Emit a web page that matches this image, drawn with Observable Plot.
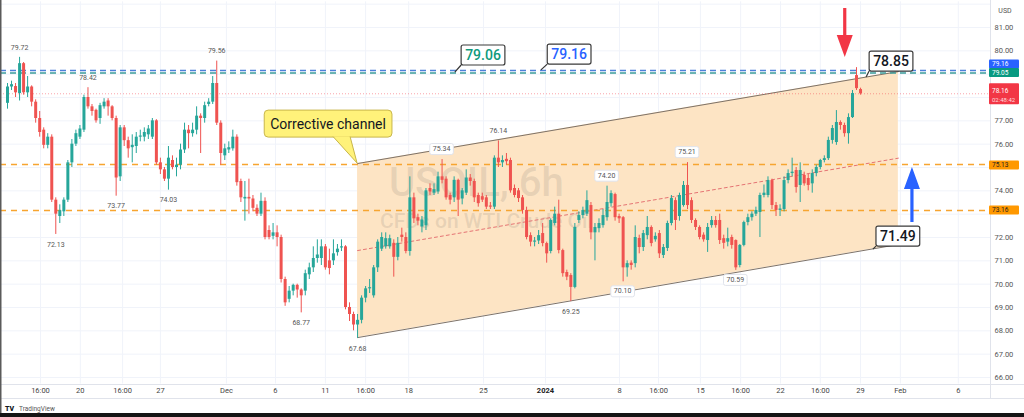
<!DOCTYPE html>
<html><head><meta charset="utf-8">
<script src="https://cdn.jsdelivr.net/npm/d3@7"></script>
<script src="https://cdn.jsdelivr.net/npm/@observablehq/plot@0.6"></script>
<style>
html,body{margin:0;padding:0;background:#fff;}
#chart{position:relative;width:1024px;height:417px;overflow:hidden;background:#fff;}
svg{display:block;}
</style></head><body><div id="chart"></div>
<script>
// ---- OHLC candles (open, high, low, close), 6h bars ----
const candlesNov = [
[77.75,78.6,77.5,78.45],[78.45,78.7,78.3,78.55],[78.47,78.6,78.0,78.2],[78.17,79.72,77.85,79.45],[79.45,79.5,78.1,78.2],[78.2,78.9,78.0,78.45],[78.45,78.5,77.6,77.8],[77.8,77.9,76.9,77.1],[77.1,77.4,76.3,76.5],[76.6,76.7,75.8,75.95],
[75.95,76.45,75.8,76.3],[76.3,76.4,73.5,73.6],[73.6,73.7,72.13,73.0],[72.9,73.4,72.6,73.15],[73.1,73.7,72.9,73.6],[73.6,75.3,73.5,75.2],[75.2,76.2,75.0,76.0],[76.0,76.6,75.9,76.45],[76.3,76.8,76.2,76.65],[76.6,78.1,76.5,78.0],
[78.0,78.42,77.5,77.6],[77.6,77.7,77.2,77.4],[77.45,77.5,76.9,77.0],[77.1,77.75,76.85,77.65],[77.6,77.95,77.5,77.8],[77.85,77.95,77.2,77.6],[77.6,77.65,77.0,77.1],[77.1,77.2,73.77,74.55],[74.6,76.8,74.4,76.7],[76.7,76.8,75.9,76.15],
[76.15,76.3,75.4,75.8],[75.85,76.4,75.2,75.95],[75.9,76.5,75.6,76.3],[76.3,76.6,76.1,76.35],[76.3,76.7,76.1,76.5],[76.4,76.8,76.2,76.65],[76.3,77.1,76.2,77.0],[77.0,77.05,75.1,75.2],[75.2,75.4,74.7,74.9],[74.9,75.0,74.4,74.5],
[74.5,75.9,74.03,75.4],[75.3,75.5,74.9,75.0],[75.0,75.4,74.6,75.1],[75.1,76.0,74.9,75.75],[75.75,76.9,75.6,76.6],[76.6,76.8,75.8,76.45],[76.45,76.9,76.3,76.6],[76.6,77.6,76.4,77.2],[77.2,77.3,75.6,77.1],[77.1,77.8,76.9,77.65],
[77.7,77.95,77.6,77.8],[77.8,78.9,77.7,78.6],[78.6,79.56,76.8,76.9]
];
const candlesDec = [
[76.9,77.0,75.1,75.6],[75.5,76.0,75.3,75.8],[75.75,76.1,75.6,75.85],[75.8,76.6,75.7,76.3],[76.3,76.4,74.2,74.35],[74.4,74.5,73.5,73.7],[73.65,74.4,72.7,73.72],[73.72,74.5,73.0,73.65],[73.65,73.8,73.1,73.25],[73.25,73.4,72.9,73.0],
[73.0,73.9,72.9,73.55],[73.55,73.7,71.9,72.0],[72.3,72.5,71.9,72.0],[72.05,72.6,71.9,72.2],[72.2,72.5,71.6,72.0],[72.0,72.1,70.05,70.2],[70.2,70.3,69.05,69.2],[69.35,69.9,69.2,69.7],[69.7,70.0,69.5,69.95],[69.95,70.0,69.4,69.75],
[69.75,69.8,68.77,69.5],[69.7,70.6,69.5,70.45],[70.4,70.9,70.2,70.7],[70.7,71.6,70.5,71.1],[71.1,71.9,70.9,71.25],[71.1,71.9,70.8,71.6],[71.6,71.7,70.6,70.7],[71.0,71.5,70.4,70.67],[71.0,71.9,70.8,71.3],[71.35,71.7,71.2,71.5],
[71.55,71.9,71.4,71.6],[71.6,71.65,68.9,69.0],[69.0,69.2,68.4,68.7],[68.7,68.8,68.0,68.25],[68.25,68.7,67.68,68.45],[68.45,69.5,68.3,69.4],[69.4,69.9,69.2,69.8],[69.8,70.2,69.6,69.85],[69.5,70.8,69.4,70.7],[70.7,71.9,70.5,71.8],
[71.5,72.2,71.4,72.0],[71.6,72.2,71.5,71.95],[71.6,72.1,71.5,71.95],[71.75,71.9,70.3,71.15],[71.15,72.0,71.0,71.75],[72.1,72.4,71.8,72.0],[72.0,72.2,71.3,71.4],[71.4,74.6,71.2,73.7],[73.7,73.9,72.6,72.8],[72.85,73.0,72.5,72.7],
[72.45,72.9,72.2,72.75],[72.5,74.1,72.3,74.0],[74.1,74.3,73.8,73.95],[73.9,74.3,73.8,74.05],[73.95,74.8,73.85,74.6],[74.6,75.34,74.3,74.45],[74.5,74.6,73.6,73.7],[73.8,73.9,73.4,73.6],[73.7,74.6,73.5,74.45],[74.45,74.5,72.9,73.6],
[73.65,74.1,73.4,74.0],[73.9,74.9,73.8,74.55],[74.55,74.7,74.2,74.4],[74.4,74.5,73.5,73.7],[73.8,73.9,73.3,73.45],[73.75,73.9,73.5,73.6],[73.7,73.8,73.2,73.3],[73.35,73.5,73.2,73.3],[73.3,75.5,73.2,75.4],[75.4,76.14,75.0,75.2],
[75.2,75.5,75.0,75.3],[75.35,75.6,75.1,75.25],[75.3,75.4,73.9,74.0],[74.1,74.25,73.7,73.8],[74.0,74.1,73.5,73.67],[73.7,73.8,73.0,73.16],[73.16,73.3,71.9,72.0],[72.08,72.2,71.6,71.8],[71.8,72.0,71.6,71.85]
];
const candlesJan = [
[71.85,72.3,71.7,72.08],[72.17,72.6,71.6,71.74],[71.74,71.8,70.9,71.3],[71.4,72.8,71.3,72.73],[72.6,73.3,72.5,73.0],[73.0,73.6,71.3,71.44],[71.44,71.5,70.3,70.45],[70.5,70.6,70.15,70.3],[70.37,70.45,69.25,69.86],[69.86,72.6,69.8,72.43],
[72.73,73.1,72.6,72.94],[72.94,73.3,72.8,73.16],[73.0,74.0,72.9,73.58],[73.37,73.5,71.9,72.2],[72.2,72.6,71.0,72.43],[72.38,72.8,72.2,72.6],[72.51,73.2,72.4,72.94],[72.85,74.2,72.7,73.5],[73.45,74.0,73.3,73.88],[73.84,73.9,72.7,72.85],
[72.9,73.0,72.6,72.8],[72.85,72.9,70.1,70.7],[70.7,71.0,70.3,70.88],[70.9,71.0,70.6,70.8],[70.88,72.5,70.7,72.0],[71.96,72.1,71.3,71.57],[71.57,72.3,71.4,72.17],[72.08,72.9,71.9,72.43],[72.43,72.5,71.6,71.74],[71.9,72.2,71.8,72.05],
[72.17,72.3,71.1,71.3],[71.23,71.7,71.1,71.57],[71.53,72.7,71.4,72.6],[72.6,73.8,72.5,73.67],[73.58,73.7,72.3,72.73],[72.9,73.9,72.7,73.8],[73.37,74.4,73.3,74.23],[74.23,75.21,73.2,73.37],[73.58,73.7,72.6,72.73],[72.73,72.8,72.3,72.43],
[72.43,72.5,71.9,72.0],[72.1,72.2,71.8,71.9],[71.87,72.6,71.36,72.43],[72.51,72.9,72.4,72.73],[72.73,72.9,72.4,72.51],[72.73,73.0,71.7,71.87],[71.95,72.1,71.5,71.75],[71.8,72.4,71.6,71.95],[72.0,72.1,71.5,71.66],[71.87,71.9,70.59,70.7],
[70.8,71.7,70.7,71.66],[71.66,72.7,71.6,72.64],[72.64,73.0,72.5,72.85],[72.85,73.1,72.7,73.0],[73.0,73.3,72.9,73.16],[73.07,73.9,72.0,73.8],[73.8,74.25,73.7,73.9],[73.8,74.6,73.7,74.44],[74.44,74.5,73.2,73.37],[73.37,73.5,72.9,73.16],
[73.16,73.4,72.9,73.22],[73.2,74.6,73.1,74.44],[74.44,74.9,74.3,74.74],[74.74,75.4,74.6,74.8],[74.87,75.0,73.9,74.14],[74.23,75.2,73.5,74.87],[74.66,74.8,74.2,74.3],[74.53,74.7,74.0,74.23],[74.3,74.9,73.9,74.74],[74.74,75.1,74.6,75.0],
[75.0,75.35,74.9,75.3],[75.3,75.5,75.2,75.38],[75.38,76.3,75.3,76.16],[76.16,76.8,76.0,76.67],[76.07,77.44,75.95,76.93],[76.93,77.0,76.6,76.8],[76.8,76.9,76.3,76.45],[76.45,77.3,76.0,77.14],[77.14,78.3,77.1,78.17],[78.94,79.28,78.3,78.38],
[78.34,78.4,78.1,78.16]
];

// ---- axes ----
const xTickLabels = ["16:00","20","16:00","27","Dec","6","11","16:00","18","25","2024","8","16:00","15","16:00","22","16:00","29","Feb","6"];
const xTickIdx = [8.2,18.1,28.6,38.0,54.4,66.6,79.0,89.0,99.7,118.3,133.7,152.1,161.8,172.2,182.2,192.1,202.0,212.0,221.9,236.3];
const yTickValues = [81,80,77,76,74,72,71,70,69,68,67,66];
const yGridValues = [66,67,68,69,70,71,72,73,74,75,76,77,78,79,80,81,82];

// ---- levels ----
const levelBlue = 79.16;
const levelTeal = 79.05;
const levelOrange = [75.13, 73.16];
const lastPrice = 78.16;
const tagPrices = [79.16, 79.05, 78.16, 75.13, 73.16];
const tagLabels = ["79.16", "79.05", "78.16", "75.13", "73.16"];

// ---- channel ----
const channelX = [87, 221.4];
const channelTop = [75.17, 79.11];
const channelBottom = [67.71, 71.70];
const channelMid = [71.44, 75.40];

// ---- pivot labels ----
const pivotHighValues = [79.72, 78.42, 79.56, 75.34, 76.14, 74.20, 75.21];
const pivotLowValues = [72.13, 73.77, 74.03, 68.77, 67.68, 69.25, 70.10, 70.59];
const boxedPivotValues = [75.34, 74.20, 75.21, 70.10, 70.59];

// ---- callouts ----
const calloutTexts = ["79.06", "79.16", "78.85", "71.49"];
const calloutIdx = [118.3, 139.7, 219.7, 221.4];
const calloutPrice = [79.8, 79.84, 79.54, 72.04];
const calloutTargetIdx = [111.3, 132.7, 213.5, 215.2];
const calloutTargetPrice = [79.07, 79.16, 78.86, 71.48];
const noteText = "Corrective channel";
const noteIdx = 79.8, notePrice = 76.86;

// ---- arrows ----
const arrowIdx = [208.2, 224.9];
const arrowFrom = [81.81, 72.64];
const arrowTo = [79.71, 75.0];

// ---- watermark ----
const watermark = [{t: "USOIL, 6h", i: 116.5, p: 74.31, s: 40}, {t: "CFDs on WTI Crude Oil", i: 119.0, p: 72.68, s: 21}];

const UP = "#26a69a", DOWN = "#ef5350";
const candles = [...candlesNov, ...candlesDec, ...candlesJan].map(([o,h,l,c], i) => ({i, o, h, l, c, col: c >= o ? UP : DOWN}));
const findHigh = v => candles.find(d => Math.abs(d.h - v) < 1e-9);
const findLow = v => candles.find(d => Math.abs(d.l - v) < 1e-9);
const highs = pivotHighValues.map(v => ({...findHigh(v), v})).filter(d => !boxedPivotValues.includes(d.v));
const lows = pivotLowValues.map(v => ({...findLow(v), v})).filter(d => !boxedPivotValues.includes(d.v));
const channel = channelX.map((x, k) => ({x, top: channelTop[k], bot: channelBottom[k], mid: channelMid[k]}));
const xt = xTickIdx.map((v, k) => ({v, t: xTickLabels[k]}));

const FONT = "Roboto, 'Noto Sans', 'DejaVu Sans', sans-serif";
const plot = Plot.plot({
  width: 1024, height: 417,
  marginLeft: 0, marginRight: 34, marginTop: 27, marginBottom: 40,
  style: {fontFamily: FONT, background: "transparent", overflow: "visible"},
  x: {domain: [-1.74, 244.3], axis: null},
  y: {domain: [66, 81], axis: null},
  color: {type: "identity"},
  marks: [
    Plot.ruleY(yGridValues, {stroke: "#f0f3fa", strokeWidth: 1}),
    Plot.ruleX(xTickIdx, {y1: 82.1, y2: 65.72, stroke: "#f0f3fa", strokeWidth: 1}),
    Plot.areaY(channel, {x: "x", y1: "bot", y2: "top", fill: "#fde4c4", curve: "linear"}),
    Plot.text(watermark, {x: "i", y: "p", text: "t", fontSize: d => d.s, fill: "#8a7f74", fillOpacity: 0.2, fontWeight: 500}),
    Plot.line(channel, {x: "x", y: "top", stroke: "#7d7268", strokeWidth: 1}),
    Plot.line(channel, {x: "x", y: "bot", stroke: "#7d7268", strokeWidth: 1}),
    Plot.line(channel, {x: "x", y: "mid", stroke: "#e57373", strokeWidth: 1, strokeDasharray: "3,3"}),
    Plot.ruleY([lastPrice], {stroke: "#f23645", strokeOpacity: 0.45, strokeWidth: 1, strokeDasharray: "1,2"}),
    Plot.ruleY(levelOrange, {stroke: "#f7a530", strokeWidth: 1.6, strokeDasharray: "6,5"}),
    Plot.ruleY([levelBlue], {stroke: "#4c7fd9", strokeWidth: 1.5, strokeDasharray: "6,4"}),
    Plot.ruleY([levelTeal], {stroke: "#3b9c9a", strokeWidth: 1.5, strokeDasharray: "6,4"}),
    Plot.ruleX(candles, {x: "i", y1: "l", y2: "h", stroke: "col", strokeWidth: 1}),
    Plot.ruleX(candles, {x: "i", y1: "o", y2: "c", stroke: "col", strokeWidth: 3}),
    Plot.text(highs, {x: "i", y: "h", text: d => d.v.toFixed(2), dy: -10, fontSize: 7, fill: "#555"}),
    Plot.text(lows, {x: "i", y: "l", text: d => d.v.toFixed(2), dy: 10, fontSize: 7, fill: "#555"}),
    Plot.text(yTickValues, {y: d => d, frameAnchor: "right", dx: 4, textAnchor: "start", text: d => d.toFixed(2), fontSize: 7.5, fill: "#555"}),
    Plot.text(xt.filter(d => d.t !== "2024"), {x: "v", text: "t", frameAnchor: "bottom", dy: 15, fontSize: 7.5, fill: "#444"}),
    Plot.text(xt.filter(d => d.t === "2024"), {x: "v", text: "t", frameAnchor: "bottom", dy: 15, fontSize: 7.5, fill: "#222", fontWeight: "bold"})
  ]
});
document.getElementById("chart").append(plot);

const sx = plot.scale("x"), sy = plot.scale("y");
const X = v => sx.apply(v), Y = v => sy.apply(v);
const svg = d3.select(plot);
const g = svg.append("g").attr("font-family", FONT).attr("text-anchor", "start");

// chrome
g.append("line").attr("x1", 990.5).attr("x2", 990.5).attr("y1", 0).attr("y2", 398).attr("stroke", "#e0e3eb");
g.append("line").attr("x1", 0).attr("x2", 1024).attr("y1", 384.5).attr("y2", 384.5).attr("stroke", "#e0e3eb");
g.append("line").attr("x1", 0).attr("x2", 1024).attr("y1", 398.5).attr("y2", 398.5).attr("stroke", "#e0e3eb");
g.append("rect").attr("x", 0).attr("y", 0).attr("width", 1.5).attr("height", 413).attr("fill", "#5a5a5a");
g.append("rect").attr("x", 0).attr("y", 413).attr("width", 1024).attr("height", 4).attr("fill", "#151515");
g.append("text").attr("x", 1005).attr("y", 13).attr("text-anchor", "middle").attr("font-size", 7).attr("fill", "#555").text("USD");
g.append("text").attr("x", 5).attr("y", 411).attr("text-anchor", "start").attr("font-size", 7).attr("font-weight", "900").attr("fill", "#131722").text("TV");
g.append("text").attr("x", 19).attr("y", 411).attr("text-anchor", "start").attr("font-size", 6.5).attr("fill", "#555").text("TradingView");

// right-axis price tags
const tagFill = ["#2962ff", "#089981", "#f23645", "#ff9800", "#ff9800"];
const tagInk = ["#fff", "#fff", "#fff", "#222", "#222"];
const tagShift = [-6, 0, 0, 1, 0];
tagPrices.forEach((p, k) => {
  const cy = Y(p) + tagShift[k];
  if (k === 2) {
    g.append("rect").attr("x", 989).attr("y", cy - 10).attr("width", 30).attr("height", 21).attr("rx", 1).attr("fill", tagFill[k]);
    g.append("text").attr("x", 992).attr("y", cy - 2).attr("text-anchor", "start").attr("font-size", 6.5).attr("fill", tagInk[k]).attr("dominant-baseline", "central").text(tagLabels[k]);
    g.append("text").attr("x", 992).attr("y", cy + 6).attr("text-anchor", "start").attr("font-size", 6).attr("fill", "#ffd9dc").attr("dominant-baseline", "central").text("02:48:42");
  } else {
    g.append("rect").attr("x", 989).attr("y", cy - 4.5).attr("width", 30).attr("height", 9).attr("rx", 1).attr("fill", tagFill[k]);
    g.append("text").attr("x", 992).attr("y", cy + 0.5).attr("text-anchor", "start").attr("font-size", 6.5).attr("fill", tagInk[k]).attr("dominant-baseline", "central").text(tagLabels[k]);
  }
});

// boxed labels
function boxed(cx, cy, txt, o) {
  const t = g.append("text").attr("x", cx).attr("y", cy).attr("text-anchor", "middle").attr("dominant-baseline", "central")
    .attr("font-size", o.size).attr("font-weight", o.weight || 400).attr("fill", o.ink).text(txt);
  const bb = t.node().getBBox();
  const w = bb.width + 2 * o.padX, h = o.h;
  g.insert("rect", () => t.node()).attr("x", cx - w / 2).attr("y", cy - h / 2).attr("width", w).attr("height", h)
    .attr("rx", o.rx || 2).attr("fill", o.fill).attr("stroke", o.stroke).attr("stroke-width", o.sw || 1);
  return {x: cx - w / 2, y: cy - h / 2, w, h};
}
boxedPivotValues.forEach(v => {
  if (pivotHighValues.includes(v)) { const hi = findHigh(v); boxed(X(hi.i), Y(v) - 10, v.toFixed(2), {size: 7, ink: "#555", fill: "#fff", stroke: "#e0e3eb", padX: 3, h: 11}); }
  else { const lo = findLow(v); boxed(X(lo.i), Y(v) + 10, v.toFixed(2), {size: 7, ink: "#555", fill: "#fff", stroke: "#e0e3eb", padX: 3, h: 11}); }
});

// price callouts
const calloutInk = ["#0f9a7c", "#2962ff", "#131722", "#131722"];
calloutTexts.forEach((txt, k) => {
  const tx = X(calloutTargetIdx[k]), ty = Y(calloutTargetPrice[k]);
  const b = boxed(X(calloutIdx[k]), Y(calloutPrice[k]), txt, {size: 14, weight: 500, ink: calloutInk[k], fill: "#fff", stroke: "#3a3a3a", padX: 4, h: 20, sw: 1.2});
  g.append("line").attr("x1", b.x).attr("y1", b.y + b.h).attr("x2", tx).attr("y2", ty).attr("stroke", "#333").attr("stroke-width", 1.2);
});

// yellow note with pointer
{
  const cx = X(noteIdx), cy = Y(notePrice);
  const tip = [X(channelX[0]), Y(channelTop[0])];
  const b = boxed(cx, cy, noteText, {size: 14, ink: "#131722", fill: "#fff27a", stroke: "#c8b64a", padX: 6, h: 27, rx: 4});
  const by = b.y + b.h;
  g.append("path").attr("d", `M${cx + 5},${by - 0.5} L${tip[0]},${tip[1]} L${cx + 22},${by - 0.5}`)
    .attr("fill", "#fff27a").attr("stroke", "#c8b64a").attr("stroke-width", 1);
}

// arrows
const arrowFill = ["#f23645", "#2962ff"];
arrowIdx.forEach((ix, k) => {
  const x = X(ix), y0 = Y(arrowFrom[k]), y1 = Y(arrowTo[k]);
  const dir = Math.sign(y1 - y0), headL = 22, hw = 8, sw = 1.6;
  const yb = y1 - dir * headL;
  g.append("path").attr("d", `M${x - sw},${y0} L${x + sw},${y0} L${x + sw},${yb} L${x + hw},${yb} L${x},${y1} L${x - hw},${yb} L${x - sw},${yb} Z`)
    .attr("fill", arrowFill[k]);
});
</script></body></html>
